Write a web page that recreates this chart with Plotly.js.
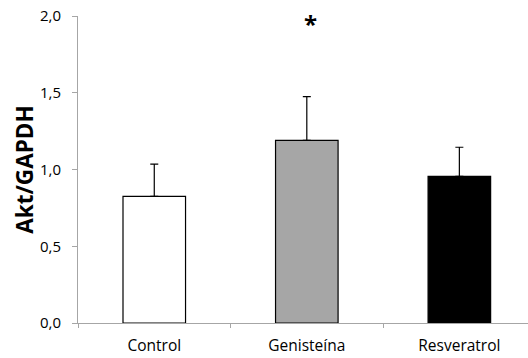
<!DOCTYPE html>
<html><head><meta charset="utf-8">
<script src="https://cdn.plot.ly/plotly-3.0.1.min.js"></script>
<style>body{margin:0;padding:0;background:#fff}#chart{width:528px;height:358px}</style>
</head><body><div id="chart"></div>
<script>
const categories = ["Control", "Genisteína", "Resveratrol"];
const values = [0.825, 1.19, 0.955];
const errors = [0.21, 0.285, 0.19];
const colors = ["#ffffff", "#a6a6a6", "#000000"];
const yTicks = [0, 0.5, 1.0, 1.5, 2.0];
const sigLabel = "*";
const sigCategory = "Genisteína";

const trace = {
  type: "bar", x: categories, y: values,
  marker: {color: colors, line: {color: "#000", width: 1.2}},
  error_y: {type: "data", array: errors, arrayminus: errors.map(()=>0), symmetric: false,
            color: "#000", thickness: 1.2, width: 4},
  width: 0.41, hoverinfo: "none"
};
const layout = {
  width: 528, height: 358,
  margin: {l: 78, r: 0, t: 16, b: 35},
  paper_bgcolor: "#fff", plot_bgcolor: "#fff",
  separators: ",.",
  showlegend: false,
  font: {family: "Open Sans, Noto Sans, sans-serif", color: "#000"},
  xaxis: {
    type: "category", range: [-0.5, 2.45], showline: true, linecolor: "#a6a6a6", linewidth: 1,
    ticks: "outside", tickson: "boundaries", ticklen: 4, tickcolor: "#a6a6a6", ticklabelstandoff: 8,
    tickfont: {size: 15.5, family: "Open Sans, sans-serif"}, showgrid: false, zeroline: false
  },
  yaxis: {
    range: [0, 2], tickvals: yTicks, tickformat: ".1f", showline: true, linecolor: "#a6a6a6", linewidth: 1,
    ticks: "outside", ticklen: 5, tickcolor: "#a6a6a6", ticklabelstandoff: 8, showgrid: false, zeroline: false,
    tickfont: {size: 15, family: "Open Sans, sans-serif"},
    title: {text: "<b>Akt/GAPDH</b>", font: {size: 22.5, family: "Open Sans, sans-serif"}, standoff: 0}
  },
  annotations: [{x: sigCategory, y: 1.95, xref: "x", yref: "y", xshift: 4, text: "<b>" + sigLabel + "</b>",
    showarrow: false, font: {size: 24, color: "#000"}}]
};
Plotly.newPlot("chart", [trace], layout, {displayModeBar: false, staticPlot: true});
</script></body></html>
